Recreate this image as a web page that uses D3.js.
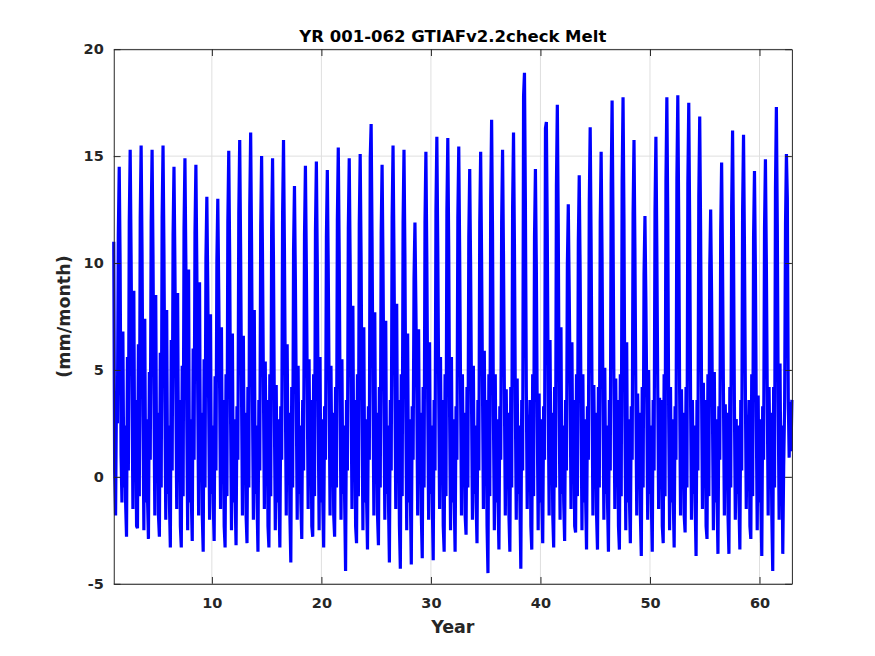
<!DOCTYPE html>
<html>
<head>
<meta charset="utf-8">
<script src="https://cdn.jsdelivr.net/npm/d3@7"></script>
<style>
  html, body { margin: 0; padding: 0; background: #fff; }
  svg { display: block; font-family: "DejaVu Sans", sans-serif; font-weight: bold; }
</style>
</head>
<body>
<div id="chart"></div>
<script>
// chart text
const titleText = "YR 001-062 GTIAFv2.2check Melt";
const xLabelText = "Year";
const yLabelText = "(mm/month)";

// axis ticks
const xTicks = [10, 20, 30, 40, 50, 60];
const yTicks = [-5, 0, 5, 10, 15, 20];
const yDomain = [-5, 20];

// monthly melt (mm/month), one row per model year 001..062, Jan..Dec
const firstYear = 1;
const meltByYear = [
  [11.0, 0.2, -1.8, 4.0, 2.5, 11.3, 14.5, 9.9, 1.0, -1.2, 6.8, -0.5],
  [2.4, -1.2, -2.8, 5.6, 0.3, 11.9, 15.3, 10.4, 4.2, -1.5, 8.7, -0.2],
  [3.6, -2.3, -2.4, 6.2, -0.9, 12.1, 15.5, 10.5, 2.8, -2.5, 7.4, -1.2],
  [2.7, -1.0, -2.9, 4.9, 0.8, 11.9, 15.3, 10.4, 3.9, -1.8, 8.5, 0.1],
  [3.0, -1.8, -2.8, 5.8, -0.5, 12.1, 15.5, 10.5, 3.5, -2.0, 7.8, -0.8],
  [2.4, -1.2, -3.3, 6.4, 0.3, 11.3, 14.5, 9.9, 4.2, -1.5, 8.6, -0.2],
  [3.6, -2.3, -3.3, 5.2, -0.9, 11.6, 14.9, 10.1, 2.8, -2.5, 9.7, -1.2],
  [2.7, -1.0, -3.0, 6.0, 0.8, 11.4, 14.6, 9.9, 3.9, -1.8, 9.1, 0.1],
  [3.0, -1.8, -3.5, 5.5, -0.5, 10.2, 13.1, 8.9, 3.5, -2.0, 7.6, -0.8],
  [2.4, -1.2, -3.0, 4.7, 0.3, 10.1, 13.0, 8.8, 4.2, -1.5, 7.0, -0.2],
  [3.6, -2.3, -3.3, 4.8, -0.9, 11.9, 15.25, 10.4, 2.8, -2.5, 6.7, -1.2],
  [2.7, -1.0, -3.2, 3.3, 0.8, 12.3, 15.75, 10.7, 3.9, -1.8, 6.6, 0.1],
  [3.0, -1.8, -3.1, 4.2, -0.5, 12.6, 16.1, 10.9, 3.5, -2.0, 7.8, -0.8],
  [2.4, -1.2, -3.5, 3.6, 0.3, 11.7, 15.0, 10.2, 4.2, -1.5, 5.4, -0.2],
  [3.6, -2.3, -3.3, 4.8, -0.9, 11.6, 14.9, 10.1, 2.8, -2.5, 4.3, -1.2],
  [2.7, -1.0, -3.3, 3.3, 0.8, 12.3, 15.75, 10.7, 3.9, -1.8, 6.2, 0.1],
  [3.0, -1.8, -4.0, 4.2, -0.5, 10.6, 13.6, 9.2, 3.5, -2.0, 5.2, -0.8],
  [2.4, -1.2, -2.9, 3.6, 0.3, 11.3, 14.55, 9.9, 4.2, -1.5, 5.5, -0.2],
  [3.6, -2.3, -2.8, 4.8, -0.9, 11.5, 14.75, 10.0, 2.8, -2.5, 5.6, -1.2],
  [2.7, -1.0, -3.3, 3.3, 0.8, 11.2, 14.35, 9.8, 3.9, -1.8, 5.2, 0.1],
  [3.0, -1.8, -2.8, 4.2, -0.5, 12.0, 15.4, 10.5, 3.5, -2.0, 5.5, -0.8],
  [2.4, -1.2, -4.4, 3.6, 0.3, 11.6, 14.9, 10.1, 4.2, -1.5, 8.0, -0.2],
  [3.6, -2.3, -3.1, 4.8, -0.9, 11.8, 15.1, 10.3, 2.8, -2.5, 7.0, -1.2],
  [2.7, -1.0, -3.4, 3.3, 0.8, 14.9, 16.5, 11.2, 3.9, -1.8, 7.7, 0.1],
  [3.0, -1.8, -3.2, 4.2, -0.5, 11.4, 14.6, 9.9, 3.5, -2.0, 7.3, -0.8],
  [2.4, -1.2, -4.0, 3.6, 0.3, 12.1, 15.5, 10.5, 4.2, -1.5, 8.1, -0.2],
  [3.6, -2.3, -4.3, 4.8, -0.9, 11.9, 15.3, 10.4, 2.8, -2.5, 6.7, -1.2],
  [2.7, -1.0, -4.1, 3.3, 0.8, 9.3, 11.9, 8.1, 3.9, -1.8, 6.9, 0.1],
  [3.0, -1.8, -3.8, 4.2, -0.5, 11.9, 15.2, 10.3, 3.5, -2.0, 6.3, -0.8],
  [2.4, -1.2, -3.9, 3.6, 0.3, 12.4, 15.9, 10.8, 4.2, -1.5, 5.6, -0.2],
  [3.6, -2.3, -3.5, 4.8, -0.9, 12.4, 15.85, 10.8, 2.8, -2.5, 5.6, -1.2],
  [2.7, -1.0, -3.5, 3.3, 0.8, 12.1, 15.45, 10.5, 3.9, -1.8, 4.8, 0.1],
  [3.0, -1.8, -2.7, 4.2, -0.5, 11.2, 14.4, 9.8, 3.5, -2.0, 5.2, -0.8],
  [2.4, -1.2, -3.1, 3.6, 0.3, 11.9, 15.2, 10.3, 4.2, -1.5, 5.9, -0.2],
  [3.6, -2.3, -4.5, 4.8, -0.9, 13.0, 16.7, 11.4, 2.8, -2.5, 4.8, -1.2],
  [2.7, -1.0, -3.4, 3.3, 0.8, 11.9, 15.3, 10.4, 3.9, -1.8, 4.1, 0.1],
  [3.0, -1.8, -3.5, 4.2, -0.5, 12.6, 16.1, 10.9, 3.5, -2.0, 4.6, -0.8],
  [2.4, -1.2, -4.3, 3.6, 0.3, 17.8, 18.9, 12.9, 4.2, -1.5, 2.9, -0.2],
  [3.6, -2.3, -3.4, 4.8, -0.9, 11.2, 14.4, 9.8, 2.8, -2.5, 3.9, -1.2],
  [2.7, -1.0, -3.1, 3.3, 0.8, 16.3, 16.6, 11.3, 3.9, -1.8, 6.4, 0.1],
  [3.0, -1.8, -3.3, 4.2, -0.5, 13.6, 17.4, 11.8, 3.5, -2.0, 7.0, -0.8],
  [2.4, -1.2, -3.0, 3.6, 0.3, 9.9, 12.75, 8.7, 4.2, -1.5, 6.3, -0.2],
  [3.6, -2.3, -2.6, 4.8, -0.9, 11.0, 14.1, 9.6, 2.8, -2.5, 4.8, -1.2],
  [2.7, -1.0, -3.4, 3.3, 0.8, 12.8, 16.35, 11.1, 3.9, -1.8, 4.3, 0.1],
  [3.0, -1.8, -3.4, 4.2, -0.5, 11.9, 15.2, 10.3, 3.5, -2.0, 5.1, -0.8],
  [2.4, -1.2, -3.5, 3.6, 0.3, 13.7, 17.6, 12.0, 4.2, -1.5, 4.6, -0.2],
  [3.6, -2.3, -3.4, 4.8, -0.9, 13.8, 17.75, 12.1, 2.8, -2.5, 6.3, -1.2],
  [2.7, -1.0, -3.1, 3.3, 0.8, 12.3, 15.75, 10.7, 3.9, -1.8, 3.9, 0.1],
  [3.0, -1.8, -3.7, 4.2, -0.5, 9.5, 12.2, 8.3, 3.5, -2.0, 5.0, -0.8],
  [2.4, -1.2, -3.5, 3.6, 0.3, 12.4, 15.9, 10.8, 4.2, -1.5, 3.7, -0.2],
  [3.6, -2.3, -3.1, 4.8, -0.9, 13.8, 17.75, 12.1, 2.8, -2.5, 4.2, -1.2],
  [2.7, -1.0, -3.3, 3.3, 0.8, 13.9, 17.85, 12.1, 3.9, -1.8, 4.1, 0.1],
  [3.0, -1.8, -2.6, 4.2, -0.5, 13.7, 17.5, 11.9, 3.5, -2.0, 3.6, -0.8],
  [2.4, -1.2, -3.7, 3.6, 0.3, 13.1, 16.85, 11.5, 4.2, -1.5, 4.4, -0.2],
  [3.6, -2.3, -2.9, 4.8, -0.9, 9.8, 12.5, 8.5, 2.8, -2.5, 4.9, -1.2],
  [2.7, -1.0, -3.6, 3.3, 0.8, 11.5, 14.7, 10.0, 3.9, -1.8, 3.4, 0.1],
  [3.0, -1.8, -3.6, 4.2, -0.5, 12.6, 16.2, 11.0, 3.5, -2.0, 2.7, -0.8],
  [2.4, -1.2, -3.4, 3.6, 0.3, 12.5, 16.0, 10.9, 4.2, -1.5, 2.9, -0.2],
  [3.6, -2.3, -2.9, 4.8, -0.9, 11.2, 14.3, 9.7, 2.8, -2.5, 3.8, -1.2],
  [2.7, -1.0, -3.7, 3.3, 0.8, 11.6, 14.85, 10.1, 3.9, -1.8, 4.2, 0.1],
  [3.0, -1.8, -4.4, 4.2, -0.5, 13.5, 17.3, 11.8, 3.5, -2.0, 5.3, -0.8],
  [2.4, -3.6, 0.5, 3.2, 11.8, 15.1, 13.0, 3.7, 0.9, 3.5, 1.2, 3.6]
];

// mid-month time stamps in fractional years
const series = meltByYear.flatMap((row, i) =>
  row.map((v, m) => ({ t: firstYear + i + (m + 0.5) / 12, v: v })));

const width = 875, height = 656;
// MATLAB default axes position [0.13 0.11 0.775 0.815]
const margin = { left: 113.75, right: 875 - 791.9, top: 49.2, bottom: 656 - 583.8 };
const plotW = width - margin.left - margin.right;
const plotH = height - margin.top - margin.bottom;
const axisColor = "#262626";

const svg = d3.select("#chart").append("svg")
  .attr("width", width)
  .attr("height", height);

const plot = svg.append("g")
  .attr("transform", "translate(" + margin.left + "," + margin.top + ")");

const xScale = d3.scaleLinear()
  .domain(d3.extent(series, d => d.t))
  .range([0, plotW]);

const yScale = d3.scaleLinear()
  .domain(yDomain)
  .range([plotH, 0]);

// grid lines
plot.append("g").selectAll("line")
  .data(xTicks).enter().append("line")
  .attr("x1", d => xScale(d)).attr("x2", d => xScale(d))
  .attr("y1", 0).attr("y2", plotH)
  .attr("stroke", "#dfdfdf").attr("stroke-width", 1);

plot.append("g").selectAll("line")
  .data(yTicks).enter().append("line")
  .attr("x1", 0).attr("x2", plotW)
  .attr("y1", d => yScale(d)).attr("y2", d => yScale(d))
  .attr("stroke", "#dfdfdf").attr("stroke-width", 1);

// the melt series
const line = d3.line()
  .x(d => xScale(d.t))
  .y(d => yScale(d.v));

plot.append("path")
  .datum(series)
  .attr("fill", "none")
  .attr("stroke", "#0000ff")
  .attr("stroke-width", 3.2)
  .attr("stroke-linejoin", "bevel")
  .attr("d", line);

// axes with inward ticks on all four sides (box on)
const tickLen = 6.8;
const fmt = d => String(d);   // plain hyphen for negatives, like MATLAB

const xAxisBottom = d3.axisBottom(xScale).tickValues(xTicks)
  .tickSizeInner(-tickLen).tickSizeOuter(0).tickPadding(14).tickFormat(fmt);
const xAxisTop = d3.axisTop(xScale).tickValues(xTicks)
  .tickSizeInner(-tickLen).tickSizeOuter(0).tickFormat("");
const yAxisLeft = d3.axisLeft(yScale).tickValues(yTicks)
  .tickSizeInner(-tickLen).tickSizeOuter(0).tickPadding(10).tickFormat(fmt);
const yAxisRight = d3.axisRight(yScale).tickValues(yTicks)
  .tickSizeInner(-tickLen).tickSizeOuter(0).tickFormat("");

const axes = [
  plot.append("g").attr("transform", "translate(0," + plotH + ")").call(xAxisBottom),
  plot.append("g").call(xAxisTop),
  plot.append("g").call(yAxisLeft),
  plot.append("g").attr("transform", "translate(" + plotW + ",0)").call(yAxisRight)
];

axes.forEach(g => {
  g.attr("font-family", null).attr("font-size", null);
  g.select(".domain").attr("stroke", axisColor).attr("stroke-width", 1);
  g.selectAll(".tick line").attr("stroke", axisColor).attr("stroke-width", 1);
  g.selectAll(".tick text")
    .attr("fill", axisColor)
    .style("font-size", "14.5px");
});

// title and axis labels
svg.append("text")
  .attr("x", margin.left + plotW / 2)
  .attr("y", 42)
  .attr("text-anchor", "middle")
  .style("font-size", "16.5px")
  .attr("fill", "#000")
  .text(titleText);

svg.append("text")
  .attr("x", margin.left + plotW / 2)
  .attr("y", 633)
  .attr("text-anchor", "middle")
  .style("font-size", "17.5px")
  .attr("fill", axisColor)
  .text(xLabelText);

svg.append("text")
  .attr("transform", "translate(70," + (margin.top + plotH / 2) + ") rotate(-90)")
  .attr("text-anchor", "middle")
  .style("font-size", "17.5px")
  .attr("fill", axisColor)
  .text(yLabelText);
</script>
</body>
</html>
